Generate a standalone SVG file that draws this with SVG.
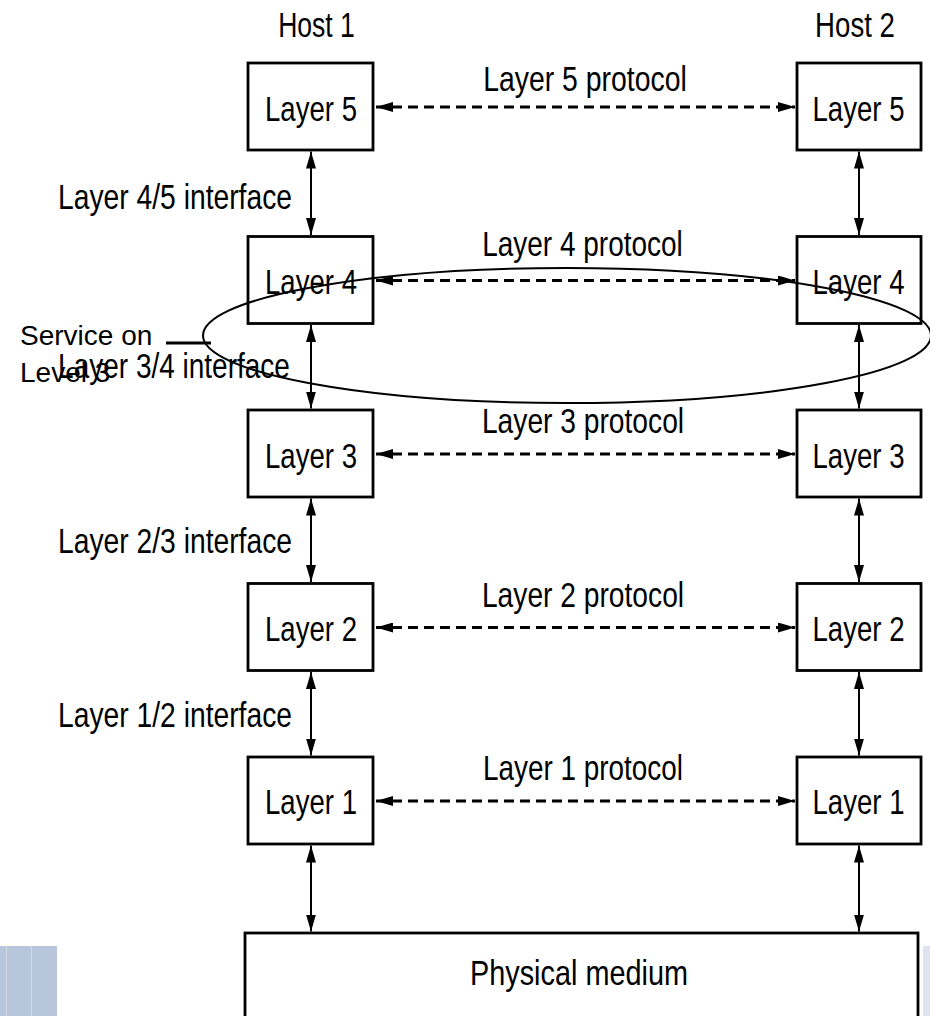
<svg xmlns="http://www.w3.org/2000/svg" width="930" height="1016" viewBox="0 0 930 1016">
  <style>
    .box { fill: #ffffff; stroke: #000000; stroke-width: 2.8; }
    .lbl { font-family: "Liberation Sans", Arial, sans-serif; font-size: 36px; fill: #000000; text-anchor: middle; }
    .note { font-family: "Liberation Sans", Arial, sans-serif; font-size: 28px; fill: #000000; }
    .dash { stroke: #000000; stroke-width: 3; stroke-dasharray: 10 6; fill: none; }
    .link { stroke: #000000; stroke-width: 2; fill: none; }
  </style>
  <defs>
    <marker id="head" viewBox="0 0 17 10" refX="17" refY="5" markerWidth="17" markerHeight="10" markerUnits="userSpaceOnUse" orient="auto-start-reverse">
      <path d="M0,0 L17,5 L0,10 z" fill="#000000"/>
    </marker>
  </defs>

  <!-- slide decoration tiles -->
  <g id="deco">
    <rect x="0" y="946" width="57" height="70" fill="#b8c6db"/>
    <line x1="6.5" y1="946" x2="6.5" y2="1016" stroke="#d3dbe9" stroke-width="1"/>
    <line x1="31.5" y1="946" x2="31.5" y2="1016" stroke="#d3dbe9" stroke-width="1"/>
    <rect x="923" y="946" width="7" height="70" fill="#dfe3ef"/>
  </g>

  <!-- host titles (narrow face: Liberation Sans squeezed horizontally) -->
  <g id="host1-title"><text class="lbl" transform="translate(316.5,37) scale(0.76,1)" textLength="101" lengthAdjust="spacingAndGlyphs">Host 1</text></g>
  <g id="host2-title"><text class="lbl" transform="translate(855,37) scale(0.76,1)" textLength="105" lengthAdjust="spacingAndGlyphs">Host 2</text></g>

  <!-- host 1 stack -->
  <g id="h1-layer5"><rect class="box" x="248" y="63" width="125" height="87"/><text class="lbl" transform="translate(311,121) scale(0.76,1)" textLength="121" lengthAdjust="spacingAndGlyphs">Layer 5</text></g>
  <g id="h1-layer4"><rect class="box" x="248" y="236.5" width="125" height="87"/><text class="lbl" transform="translate(311,294) scale(0.76,1)" textLength="121" lengthAdjust="spacingAndGlyphs">Layer 4</text></g>
  <g id="h1-layer3"><rect class="box" x="248" y="410" width="125" height="87"/><text class="lbl" transform="translate(311,468) scale(0.76,1)" textLength="121" lengthAdjust="spacingAndGlyphs">Layer 3</text></g>
  <g id="h1-layer2"><rect class="box" x="248" y="583.5" width="125" height="87"/><text class="lbl" transform="translate(311,641) scale(0.76,1)" textLength="121" lengthAdjust="spacingAndGlyphs">Layer 2</text></g>
  <g id="h1-layer1"><rect class="box" x="248" y="757" width="125" height="87"/><text class="lbl" transform="translate(311,814) scale(0.76,1)" textLength="121" lengthAdjust="spacingAndGlyphs">Layer 1</text></g>

  <!-- host 2 stack -->
  <g id="h2-layer5"><rect class="box" x="797" y="63" width="124" height="87"/><text class="lbl" transform="translate(858.5,121) scale(0.76,1)" textLength="121" lengthAdjust="spacingAndGlyphs">Layer 5</text></g>
  <g id="h2-layer4"><rect class="box" x="797" y="236.5" width="124" height="87"/><text class="lbl" transform="translate(858.5,294) scale(0.76,1)" textLength="121" lengthAdjust="spacingAndGlyphs">Layer 4</text></g>
  <g id="h2-layer3"><rect class="box" x="797" y="410" width="124" height="87"/><text class="lbl" transform="translate(858.5,468) scale(0.76,1)" textLength="121" lengthAdjust="spacingAndGlyphs">Layer 3</text></g>
  <g id="h2-layer2"><rect class="box" x="797" y="583.5" width="124" height="87"/><text class="lbl" transform="translate(858.5,641) scale(0.76,1)" textLength="121" lengthAdjust="spacingAndGlyphs">Layer 2</text></g>
  <g id="h2-layer1"><rect class="box" x="797" y="757" width="124" height="87"/><text class="lbl" transform="translate(858.5,814) scale(0.76,1)" textLength="121" lengthAdjust="spacingAndGlyphs">Layer 1</text></g>

  <!-- shared physical medium -->
  <g id="physical-medium">
    <rect class="box" x="245" y="933" width="673" height="110"/>
    <text class="lbl" transform="translate(579,985) scale(0.76,1)" textLength="287" lengthAdjust="spacingAndGlyphs">Physical medium</text>
  </g>

  <!-- connectors: peer protocols and layer interfaces -->
  <g id="connectors">
    <line class="dash" x1="376" y1="107" x2="795" y2="107" marker-start="url(#head)" marker-end="url(#head)"/>
    <line class="dash" x1="376" y1="280.5" x2="795" y2="280.5" marker-start="url(#head)" marker-end="url(#head)"/>
    <line class="dash" x1="376" y1="454" x2="795" y2="454" marker-start="url(#head)" marker-end="url(#head)"/>
    <line class="dash" x1="376" y1="627.5" x2="795" y2="627.5" marker-start="url(#head)" marker-end="url(#head)"/>
    <line class="dash" x1="376" y1="801" x2="795" y2="801" marker-start="url(#head)" marker-end="url(#head)"/>

    <line class="link" x1="311" y1="151.5" x2="311" y2="235" marker-start="url(#head)" marker-end="url(#head)"/>
    <line class="link" x1="311" y1="325" x2="311" y2="408.5" marker-start="url(#head)" marker-end="url(#head)"/>
    <line class="link" x1="311" y1="498.5" x2="311" y2="582" marker-start="url(#head)" marker-end="url(#head)"/>
    <line class="link" x1="311" y1="672" x2="311" y2="755.5" marker-start="url(#head)" marker-end="url(#head)"/>
    <line class="link" x1="311" y1="845.5" x2="311" y2="931.5" marker-start="url(#head)" marker-end="url(#head)"/>

    <line class="link" x1="859" y1="151.5" x2="859" y2="235" marker-start="url(#head)" marker-end="url(#head)"/>
    <line class="link" x1="859" y1="325" x2="859" y2="408.5" marker-start="url(#head)" marker-end="url(#head)"/>
    <line class="link" x1="859" y1="498.5" x2="859" y2="582" marker-start="url(#head)" marker-end="url(#head)"/>
    <line class="link" x1="859" y1="672" x2="859" y2="755.5" marker-start="url(#head)" marker-end="url(#head)"/>
    <line class="link" x1="859" y1="845.5" x2="859" y2="931.5" marker-start="url(#head)" marker-end="url(#head)"/>
  </g>

  <!-- protocol labels -->
  <g id="protocol-labels">
    <text class="lbl" transform="translate(585,91) scale(0.76,1)" textLength="268" lengthAdjust="spacingAndGlyphs">Layer 5 protocol</text>
    <text class="lbl" transform="translate(582.5,256) scale(0.76,1)" textLength="264" lengthAdjust="spacingAndGlyphs">Layer 4 protocol</text>
    <text class="lbl" transform="translate(583,433) scale(0.76,1)" textLength="266" lengthAdjust="spacingAndGlyphs">Layer 3 protocol</text>
    <text class="lbl" transform="translate(583,607) scale(0.76,1)" textLength="266" lengthAdjust="spacingAndGlyphs">Layer 2 protocol</text>
    <text class="lbl" transform="translate(583,780) scale(0.76,1)" textLength="263" lengthAdjust="spacingAndGlyphs">Layer 1 protocol</text>
  </g>

  <!-- interface labels -->
  <g id="interface-labels">
    <text class="lbl" transform="translate(175,209) scale(0.76,1)" textLength="308" lengthAdjust="spacingAndGlyphs">Layer 4/5 interface</text>
    <text class="lbl" transform="translate(174,378) scale(0.76,1)" textLength="305" lengthAdjust="spacingAndGlyphs">Layer 3/4 interface</text>
    <text class="lbl" transform="translate(175,553) scale(0.76,1)" textLength="308" lengthAdjust="spacingAndGlyphs">Layer 2/3 interface</text>
    <text class="lbl" transform="translate(175,727) scale(0.76,1)" textLength="308" lengthAdjust="spacingAndGlyphs">Layer 1/2 interface</text>
  </g>

  <!-- service annotation -->
  <g id="service-note">
    <ellipse cx="567" cy="335.5" rx="364" ry="67.5" fill="none" stroke="#000000" stroke-width="2"/>
    <line x1="166" y1="343" x2="211" y2="343" stroke="#000000" stroke-width="3"/>
    <text class="note" x="20" y="345">Service on</text>
    <text class="note" x="20" y="382">Level 3</text>
  </g>
</svg>
